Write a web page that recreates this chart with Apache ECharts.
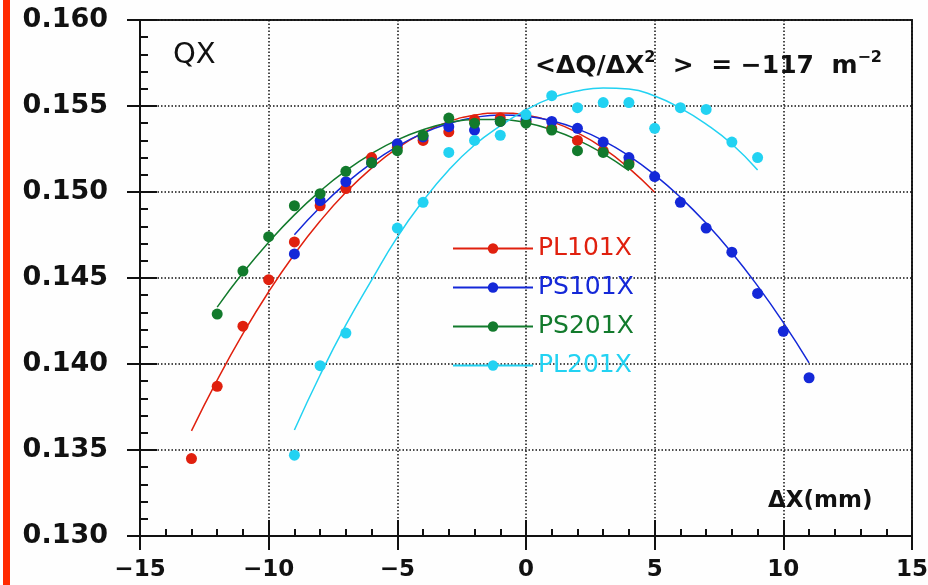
<!DOCTYPE html>
<html><head><meta charset="utf-8">
<script src="https://cdn.jsdelivr.net/npm/echarts@6/dist/echarts.min.js"></script>
<style>html,body{margin:0;padding:0;background:#fefefe}#c{width:928px;height:585px}</style>
</head><body><div id="c"></div>
<script>
// ---------- data ----------
const seriesNames = ['PL101X', 'PS101X', 'PS201X', 'PL201X'];
const xTickLabels = ['\u221215', '\u221210', '\u22125', '0', '5', '10', '15'];
const yTickLabels = ['0.130', '0.135', '0.140', '0.145', '0.150', '0.155', '0.160'];

// measured points
const pl101X = [-13, -12, -11, -10, -9, -8, -7, -6, -5, -4, -3, -2, -1, 0, 1, 2, 3, 4];
const pl101Y = [0.1345, 0.1387, 0.1422, 0.1449, 0.1471, 0.1492, 0.1502, 0.1520, 0.1526, 0.1530, 0.1535, 0.1542, 0.1543, 0.1541, 0.1537, 0.1530, 0.1524, 0.1517];
const ps101X = [-9, -8, -7, -6, -5, -4, -3, -2, -1, 0, 1, 2, 3, 4, 5, 6, 7, 8, 9, 10, 11];
const ps101Y = [0.1464, 0.1495, 0.1506, 0.1517, 0.1528, 0.1532, 0.1538, 0.1536, 0.1541, 0.1542, 0.1541, 0.1537, 0.1529, 0.1520, 0.1509, 0.1494, 0.1479, 0.1465, 0.1441, 0.1419, 0.1392];
const ps201X = [-12, -11, -10, -9, -8, -7, -6, -5, -4, -3, -2, -1, 0, 1, 2, 3, 4];
const ps201Y = [0.1429, 0.1454, 0.1474, 0.1492, 0.1499, 0.1512, 0.1517, 0.1524, 0.1533, 0.1543, 0.1540, 0.1541, 0.1540, 0.1536, 0.1524, 0.1523, 0.1516];
const pl201X = [-9, -8, -7, -5, -4, -3, -2, -1, 0, 1, 2, 3, 4, 5, 6, 7, 8, 9];
const pl201Y = [0.1347, 0.1399, 0.1418, 0.1479, 0.1494, 0.1523, 0.1530, 0.1533, 0.1545, 0.1556, 0.1549, 0.1552, 0.1552, 0.1537, 0.1549, 0.1548, 0.1529, 0.1520];

// fitted curves
const pl101FitX = [-13, -12, -11, -10, -9, -8, -7, -6, -5, -4, -3, -2, -1, 0, 1, 2, 3, 4, 5];
const pl101FitY = [0.13611, 0.13906, 0.14176, 0.14420, 0.14638, 0.14831, 0.14998, 0.15139, 0.15255, 0.15344, 0.15409, 0.15447, 0.15460, 0.15447, 0.15409, 0.15344, 0.15255, 0.15139, 0.14998];
const ps101FitX = [-9, -8, -7, -6, -5, -4, -3, -2, -1, 0, 1, 2, 3, 4, 5, 6, 7, 8, 9, 10, 11];
const ps101FitY = [0.14752, 0.14911, 0.15050, 0.15168, 0.15265, 0.15342, 0.15398, 0.15433, 0.15448, 0.15441, 0.15414, 0.15367, 0.15299, 0.15210, 0.15100, 0.14969, 0.14818, 0.14647, 0.14454, 0.14241, 0.14007];
const ps201FitX = [-12, -11, -10, -9, -8, -7, -6, -5, -4, -3, -2, -1, 0, 1, 2, 3, 4];
const ps201FitY = [0.14331, 0.14530, 0.14708, 0.14867, 0.15005, 0.15124, 0.15223, 0.15303, 0.15362, 0.15402, 0.15422, 0.15422, 0.15402, 0.15362, 0.15303, 0.15223, 0.15124];
const pl201FitX = [-9, -8, -7, -6, -5, -4, -3, -2, -1, 0, 1, 2, 3, 4, 5, 6, 7, 8, 9];
const pl201FitY = [0.13616, 0.13936, 0.14227, 0.14488, 0.14738, 0.14948, 0.15128, 0.15273, 0.15384, 0.15477, 0.15547, 0.15587, 0.15605, 0.15599, 0.15558, 0.15488, 0.15395, 0.15279, 0.15128];

// ---------- styling ----------
const colors = ['#e0200e', '#1428d8', '#127a2c', '#22d2f2'];
const pts = [[pl101X, pl101Y], [ps101X, ps101Y], [ps201X, ps201Y], [pl201X, pl201Y]];
const fits = [[pl101FitX, pl101FitY], [ps101FitX, ps101FitY], [ps201FitX, ps201FitY], [pl201FitX, pl201FitY]];
const zip = (xs, ys) => xs.map((x, i) => [x, ys[i]]);
const FONT = '"DejaVu Sans", Verdana, sans-serif';

const series = [];
seriesNames.forEach((n, i) => {
  series.push({
    type: 'line', name: n, data: zip(fits[i][0], fits[i][1]),
    smooth: true, showSymbol: false, symbol: 'circle', symbolSize: 11,
    lineStyle: { width: 1.5, color: colors[i] }, itemStyle: { color: colors[i] },
    z: 2, silent: true
  });
});
seriesNames.forEach((n, i) => {
  series.push({
    type: 'scatter', name: n, data: zip(pts[i][0], pts[i][1]),
    symbol: 'circle', symbolSize: 11, itemStyle: { color: colors[i], opacity: 1 },
    z: 3, silent: true
  });
});

const axisLineStyle = { color: '#111', width: 2 };
const gridLine = { show: true, lineStyle: { color: '#111', width: 1.5, type: [1.5, 2] } };

const option = {
  animation: false,
  backgroundColor: '#fefefe',
  grid: { left: 140, top: 20, width: 772, height: 516, containLabel: false, outerBoundsMode: 'none',
          show: true, borderColor: '#222', borderWidth: 2, backgroundColor: 'transparent' },
  xAxis: [
    { type: 'value', min: -15, max: 15, interval: 5, position: 'bottom',
      axisLine: { show: true, onZero: false, lineStyle: axisLineStyle },
      axisTick: { show: true, inside: false, length: 14, lineStyle: axisLineStyle },
      axisLabel: { show: true, margin: 23, color: '#111', fontSize: 23, fontWeight: 'bold', fontFamily: FONT,
                   formatter: v => xTickLabels[Math.round((v + 15) / 5)] },
      splitLine: gridLine },
    { type: 'value', min: -15, max: 15, interval: 5, position: 'bottom',
      axisLine: { show: false, onZero: false },
      axisTick: { show: true, inside: true, length: 16, lineStyle: axisLineStyle },
      minorTick: { show: true, splitNumber: 5, length: 7, lineStyle: axisLineStyle },
      axisLabel: { show: false }, splitLine: { show: false } }
  ],
  yAxis: [
    { type: 'value', min: 0.130, max: 0.160, interval: 0.005, position: 'left',
      axisLine: { show: true, onZero: false, lineStyle: axisLineStyle },
      axisTick: { show: true, inside: false, length: 13, lineStyle: axisLineStyle },
      axisLabel: { show: true, margin: 32, color: '#111', fontSize: 27, fontWeight: 'bold', fontFamily: FONT,
                   formatter: v => yTickLabels[Math.round((v - 0.130) / 0.005)] },
      splitLine: gridLine },
    { type: 'value', min: 0.130, max: 0.160, interval: 0.005, position: 'left',
      axisLine: { show: false, onZero: false },
      axisTick: { show: true, inside: true, length: 17, lineStyle: axisLineStyle },
      minorTick: { show: true, splitNumber: 5, length: 8, lineStyle: axisLineStyle },
      axisLabel: { show: false }, splitLine: { show: false } }
  ],
  legend: {
    left: 447, top: 231, orient: 'vertical', itemWidth: 80, itemHeight: 13, itemGap: 14,
    selectedMode: false,
    data: seriesNames.map((n, i) => ({ name: n, textStyle: { color: colors[i] } })),
    textStyle: { fontSize: 25, fontFamily: FONT, lineHeight: 25 }
  },
  graphic: [
    { type: 'rect', left: 3, top: 0, shape: { width: 7, height: 585 }, style: { fill: '#ff2a00' }, silent: true },
    { type: 'text', left: 173, top: 41, style: { text: 'QX', font: '29px ' + FONT, fill: '#111' } },
    { type: 'text', left: 535, top: 50, style: {
        text: '<\u0394Q/\u0394X{s|2}  >  = \u2212117  m{s|\u22122}',
        font: 'bold 25px ' + FONT, fill: '#111',
        rich: { s: { fontSize: 16, fontWeight: 'bold', fontFamily: FONT, padding: [0, 0, 16, 0], fill: '#111' } } } },
    { type: 'text', left: 768, top: 490, style: { text: '\u0394X(mm)', font: 'bold 23px ' + FONT, fill: '#111' } }
  ],
  series: series
};
const chart = echarts.init(document.getElementById('c'), null, { renderer: 'canvas' });
chart.setOption(option);
</script>
</body></html>
